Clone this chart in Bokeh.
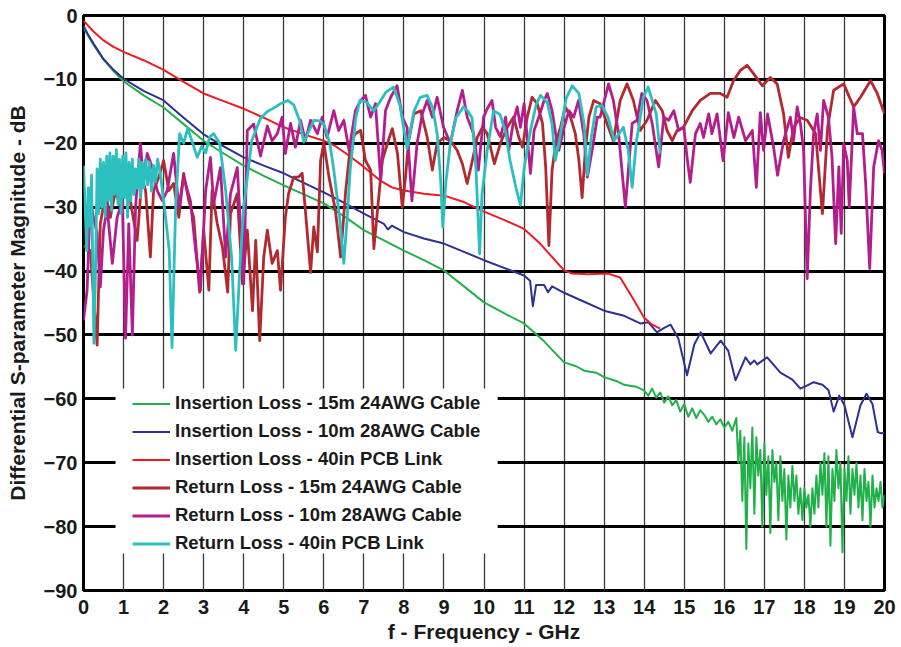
from bokeh.plotting import figure
from bokeh.models import FixedTicker, Legend, LegendItem, BoxAnnotation, Range1d
from bokeh.embed import file_html
from bokeh.resources import INLINE

# ---------------- data ----------------
x_ticks = [0, 1, 2, 3, 4, 5, 6, 7, 8, 9, 10, 11, 12, 13, 14, 15, 16, 17, 18, 19, 20]
y_ticks = [-90, -80, -70, -60, -50, -40, -30, -20, -10, 0]

series_names = [
    "Insertion Loss - 15m 24AWG Cable",
    "Insertion Loss - 10m 28AWG Cable",
    "Insertion Loss - 40in PCB Link",
    "Return Loss - 15m 24AWG Cable",
    "Return Loss - 10m 28AWG Cable",
    "Return Loss - 40in PCB Link",
]

# Insertion Loss - 15m 24AWG Cable
il15_f = [0.0, 0.1, 0.25, 0.5, 0.75, 1.0, 1.5, 2.0, 2.5, 3.0, 3.5, 4.0, 4.5, 5.0, 5.5, 6.0,
          6.5, 7.0, 7.5, 8.0, 8.5, 9.0, 9.5, 10.0, 10.5, 11.0, 11.5, 12.0, 12.3, 12.5, 12.8,
          13.0, 13.3, 13.5, 13.8, 14.0,
          14.1, 14.2, 14.3, 14.4, 14.5, 14.6, 14.7, 14.8, 14.9, 15.0, 15.1, 15.2, 15.3, 15.4,
          15.5, 15.6, 15.7, 15.8, 15.9, 16.0, 16.1, 16.2, 16.3,
          16.35, 16.4, 16.45, 16.5, 16.55, 16.6, 16.65, 16.7, 16.75, 16.8, 16.85, 16.9, 16.95,
          17.0, 17.05, 17.1, 17.15, 17.2, 17.25, 17.3, 17.35, 17.4, 17.45, 17.5, 17.55, 17.6,
          17.65, 17.7, 17.75, 17.8, 17.85, 17.9, 17.95, 18.0, 18.05, 18.1, 18.15, 18.2, 18.25,
          18.3, 18.35, 18.4, 18.45, 18.5, 18.55, 18.6, 18.65, 18.7, 18.75, 18.8, 18.85, 18.9,
          18.95, 19.0, 19.05, 19.1, 19.15, 19.2, 19.25, 19.3, 19.35, 19.4, 19.45, 19.5, 19.55,
          19.6, 19.65, 19.7, 19.75, 19.8, 19.85, 19.9, 19.95, 20.0]
il15_db = [-1.9, -3.0, -4.6, -6.9, -8.7, -10.3, -12.5, -14.4, -17.0, -19.6, -21.6, -23.5, -25.1,
           -26.6, -28.0, -29.4, -31.4, -33.6, -35.2, -36.8, -38.3, -39.9, -42.4, -44.9, -46.6,
           -48.2, -51.0, -54.3, -54.9, -55.6, -55.9, -56.6, -57.2, -57.8, -58.1, -58.7,
           -59.5, -58.4, -59.8, -59.0, -60.6, -59.6, -61.0, -60.2, -62.0, -60.8, -62.8, -61.5,
           -63.0, -61.8, -62.5, -63.6, -62.8, -64.0, -63.2, -64.5, -63.6, -65.0, -63.0,
           -70.0, -65.0, -76.0, -66.0, -83.5, -67.0, -74.0, -64.5, -78.0, -66.0, -72.0, -68.0,
           -80.0, -67.0, -75.0, -69.0, -81.0, -68.0, -73.0, -70.0, -79.0, -69.0, -76.0, -71.0,
           -82.0, -72.0, -77.0, -70.5, -76.0, -72.0, -78.0, -74.0, -79.0, -74.0, -77.0, -75.0,
           -80.0, -74.0, -78.0, -72.0, -77.0, -70.0, -75.0, -68.5, -80.0, -69.0, -83.0, -71.0,
           -76.0, -68.0, -74.0, -70.0, -84.0, -71.0, -76.0, -69.0, -78.0, -71.0, -75.0, -70.0,
           -77.0, -72.0, -79.0, -71.0, -76.0, -73.0, -80.0, -72.0, -77.0, -74.0, -76.0, -73.0,
           -77.0, -75.0]

# Insertion Loss - 10m 28AWG Cable
il10_f = [0.0, 0.1, 0.25, 0.5, 0.75, 1.0, 1.5, 2.0, 2.5, 3.0, 3.5, 4.0, 4.5, 5.0, 5.5, 6.0,
          6.5, 7.0, 7.5, 7.6, 7.7, 8.0, 8.5, 9.0, 9.5, 10.0, 10.5, 11.0, 11.15, 11.22, 11.3,
          11.5, 11.6, 11.7, 12.0, 12.5, 13.0, 13.5, 13.9, 14.1, 14.32, 14.5, 14.66, 14.85,
          15.07, 15.25, 15.41, 15.66, 15.91, 16.1, 16.28, 16.53, 16.65, 16.75, 16.82, 17.07,
          17.4, 17.7, 17.9, 18.1, 18.23, 18.45, 18.6, 18.73, 18.87, 19.0, 19.2, 19.4, 19.55,
          19.7, 19.83, 19.92, 20.0]
il10_db = [-1.6, -2.8, -4.4, -6.8, -8.5, -9.9, -11.8, -13.3, -16.0, -18.6, -20.5, -22.2, -23.5,
           -24.7, -26.2, -27.7, -29.3, -31.0, -32.6, -33.5, -32.9, -33.9, -34.9, -35.7, -37.0,
           -38.3, -39.5, -40.7, -41.5, -45.5, -42.2, -42.2, -43.3, -42.4, -43.4, -44.8, -46.2,
           -47.0, -48.2, -48.0, -49.6, -48.9, -48.4, -50.5, -56.3, -51.5, -49.6, -52.9, -50.9,
           -52.5, -57.1, -53.5, -54.6, -54.0, -54.6, -53.5, -55.9, -57.0, -58.4, -57.8, -57.4,
           -57.8, -58.6, -62.0, -59.5, -61.0, -66.0, -61.0, -59.2, -60.8, -65.2, -65.4, -65.3]

# Insertion Loss - 40in PCB Link
il40_f = [0.0, 0.25, 0.5, 0.75, 1.0, 1.5, 2.0, 2.5, 3.0, 3.5, 4.0, 4.5, 5.0, 5.5, 6.0, 6.3,
          6.6, 7.0, 7.4, 7.7, 8.0, 8.5, 9.0, 9.5, 10.0, 10.5, 11.0, 11.4, 11.7, 12.0, 12.2,
          12.6, 13.1, 13.4, 13.7, 14.0, 14.2, 14.4]
il40_db = [-0.8, -2.5, -3.9, -4.9, -5.7, -7.0, -8.5, -10.4, -12.2, -13.4, -14.6, -16.0, -17.5,
           -18.6, -19.6, -20.5, -21.8, -23.7, -25.8, -26.9, -27.4, -27.9, -28.2, -29.2, -30.7,
           -32.0, -33.4, -35.7, -37.8, -39.9, -40.4, -40.5, -40.4, -41.0, -44.1, -47.3, -48.4,
           -49.0]

# Return Loss - 15m 24AWG Cable
rl15_f = [0.0, 0.17, 0.34, 0.42, 0.55, 0.67, 0.8, 0.92, 1.05, 1.17, 1.34, 1.46, 1.55, 1.67,
          1.75, 1.88, 2.0, 2.13, 2.25, 2.38, 2.5, 2.63, 2.75, 2.9, 3.0, 3.13, 3.21, 3.34, 3.47,
          3.6, 3.67, 3.84, 3.97, 4.09, 4.22, 4.3, 4.4, 4.5, 4.59, 4.71, 4.84, 4.92, 5.04, 5.12,
          5.25, 5.37, 5.46, 5.54, 5.67, 5.75, 5.84, 5.92, 6.0, 6.13, 6.29, 6.42, 6.54, 6.67,
          6.79, 6.92, 7.04, 7.17, 7.25, 7.38, 7.46, 7.59, 7.71, 7.84, 7.96, 8.04, 8.12, 8.25,
          8.42, 8.58, 8.71, 8.83, 9.0, 9.16, 9.33, 9.46, 9.58, 9.71, 9.83, 9.96, 10.08, 10.26,
          10.41, 10.58, 10.74, 10.87, 10.96, 11.08, 11.2, 11.33, 11.46, 11.54, 11.62, 11.7,
          11.79, 11.91, 12.03, 12.16, 12.28, 12.37, 12.45, 12.53, 12.62, 12.74, 12.9, 13.07,
          13.23, 13.4, 13.57, 13.73, 13.9, 14.07, 14.28, 14.45, 14.57, 14.7, 14.82, 14.98,
          15.2, 15.4, 15.65, 15.9, 16.07, 16.23, 16.4, 16.57, 16.73, 16.95, 17.15, 17.32,
          17.48, 17.6, 17.73, 17.9, 18.07, 18.28, 18.45, 18.58, 18.73, 18.98, 19.23, 19.4,
          19.65, 19.82, 20.0]
rl15_db = [-36.0, -36.8, -51.6, -32.6, -27.9, -31.6, -27.4, -30.0, -26.9, -29.0, -35.2, -25.3,
           -27.4, -37.8, -27.4, -25.3, -22.7, -27.4, -26.3, -31.6, -24.7, -29.0, -31.6, -43.3,
           -33.6, -43.0, -27.4, -32.6, -36.3, -43.3, -31.0, -27.9, -42.0, -33.6, -46.2, -35.2,
           -50.9, -37.8, -33.6, -38.8, -36.8, -43.0, -31.6, -27.9, -25.3, -25.3, -24.7, -30.5,
           -40.2, -33.1, -37.0, -22.7, -20.0, -25.3, -30.5, -37.8, -27.9, -20.0, -18.5, -18.0,
           -22.7, -24.2, -36.5, -27.9, -22.7, -20.0, -17.7, -21.6, -30.0, -25.3, -19.6, -15.4,
           -14.9, -19.0, -24.2, -20.0, -19.1, -19.6, -21.1, -23.2, -26.3, -22.7, -19.1, -17.5,
           -18.5, -23.2, -20.0, -17.5, -15.9, -19.1, -20.6, -15.9, -12.8, -13.8, -16.9, -23.7,
           -36.0, -24.2, -20.0, -17.5, -14.3, -15.9, -18.5, -22.7, -28.5, -21.1, -15.9, -13.3,
           -13.8, -16.9, -19.6, -13.3, -10.7, -13.3, -18.0, -16.4, -13.3, -14.9, -18.0, -19.6,
           -18.0, -17.5, -14.9, -13.3, -12.2, -12.2, -12.8, -10.2, -8.6, -7.8, -9.1, -11.0,
           -9.7, -10.7, -15.4, -22.2, -17.5, -16.0, -16.4, -18.5, -31.0, -17.5, -11.7, -10.7,
           -14.3, -12.8, -10.2, -12.2, -15.4]

# Return Loss - 10m 28AWG Cable
rl10_f = [0.0, 0.09, 0.17, 0.25, 0.34, 0.42, 0.5, 0.59, 0.72, 0.84, 0.97, 1.05, 1.13, 1.22,
          1.3, 1.42, 1.5, 1.59, 1.72, 1.84, 1.97, 2.09, 2.25, 2.38, 2.5, 2.67, 2.8, 2.92, 3.05,
          3.17, 3.25, 3.42, 3.55, 3.67, 3.84, 4.0, 4.09, 4.25, 4.42, 4.59, 4.71, 4.84, 4.96,
          5.04, 5.17, 5.29, 5.42, 5.54, 5.67, 5.84, 5.96, 6.08, 6.25, 6.37, 6.5, 6.63, 6.79,
          6.92, 7.04, 7.17, 7.29, 7.42, 7.54, 7.67, 7.83, 7.96, 8.08, 8.2, 8.33, 8.46, 8.58,
          8.71, 8.83, 8.99, 9.16, 9.33, 9.46, 9.58, 9.74, 9.86, 9.99, 10.08, 10.2, 10.29,
          10.41, 10.54, 10.62, 10.74, 10.83, 10.91, 11.0, 11.08, 11.16, 11.25, 11.37, 11.5,
          11.58, 11.7, 11.79, 11.87, 12.0, 12.12, 12.24, 12.36, 12.49, 12.58, 12.7, 12.83,
          12.9, 13.11, 13.23, 13.36, 13.53, 13.7, 13.82, 13.94, 14.07, 14.2, 14.36, 14.49,
          14.61, 14.74, 14.86, 14.99, 15.07, 15.15, 15.28, 15.4, 15.48, 15.61, 15.69, 15.82,
          15.97, 16.1, 16.24, 16.36, 16.53, 16.7, 16.8, 16.9, 16.98, 17.08, 17.23, 17.33,
          17.48, 17.65, 17.73, 17.82, 17.9, 17.98, 18.07, 18.15, 18.23, 18.32, 18.4, 18.48,
          18.6, 18.69, 18.78, 18.86, 18.92, 18.98, 19.07, 19.12, 19.23, 19.32, 19.45, 19.53,
          19.63, 19.73, 19.85, 19.94, 20.0]
rl10_db = [-47.7, -43.0, -29.0, -31.6, -34.1, -42.5, -33.6, -30.0, -38.8, -31.6, -29.0, -50.5,
           -32.6, -50.0, -30.0, -20.0, -25.8, -21.6, -23.8, -27.4, -29.0, -27.4, -21.6, -30.0,
           -25.3, -29.0, -36.8, -43.0, -27.4, -22.2, -29.5, -23.8, -37.8, -27.9, -23.8, -42.0,
           -18.0, -17.0, -22.0, -17.3, -19.6, -18.5, -15.9, -21.6, -16.9, -20.6, -16.4, -19.6,
           -16.4, -18.5, -15.9, -19.1, -14.9, -18.0, -16.4, -21.1, -14.9, -13.3, -12.5, -15.9,
           -13.8, -25.8, -14.9, -12.8, -11.0, -15.9, -17.5, -29.0, -20.0, -15.4, -13.3, -15.9,
           -12.8, -17.5, -20.0, -14.9, -11.7, -15.9, -18.5, -24.2, -15.9, -14.6, -13.3, -17.5,
           -19.0, -15.9, -21.1, -16.4, -14.3, -17.5, -13.8, -19.1, -24.7, -18.0, -15.9, -13.3,
           -12.2, -14.9, -18.5, -21.1, -17.5, -14.9, -15.9, -13.3, -18.5, -25.3, -21.1, -15.9,
           -15.9, -10.7, -13.3, -18.5, -30.0, -16.9, -16.4, -12.2, -13.3, -16.9, -23.7, -15.9,
           -16.4, -14.9, -18.0, -17.5, -22.2, -26.1, -18.5, -16.9, -19.1, -15.4, -18.5, -15.4,
           -22.7, -15.2, -19.1, -15.9, -19.6, -18.0, -26.9, -15.2, -21.1, -15.4, -20.6, -25.0,
           -19.6, -15.9, -19.6, -14.3, -16.9, -21.1, -41.2, -27.4, -18.5, -15.4, -21.1, -13.3,
           -15.9, -22.2, -35.7, -23.7, -34.1, -20.0, -22.7, -30.0, -14.3, -18.5, -18.5, -26.3,
           -39.6, -23.7, -19.6, -21.1, -24.7]

# Return Loss - 40in PCB Link
rl40_f = [0.0, 0.04, 0.08, 0.12, 0.16, 0.2, 0.26, 0.3, 0.34, 0.38, 0.42, 0.46, 0.5, 0.54,
          0.58, 0.62, 0.66, 0.7, 0.74, 0.78, 0.82, 0.86, 0.9, 0.94, 0.98, 1.02, 1.06, 1.1,
          1.14, 1.18, 1.22, 1.26, 1.3, 1.34, 1.38, 1.42, 1.46, 1.5, 1.55, 1.6, 1.65, 1.7, 1.75,
          1.8, 1.85, 1.92, 1.98, 2.05, 2.14, 2.21, 2.3, 2.4, 2.5, 2.6, 2.7, 2.84, 2.95, 3.05,
          3.15, 3.25, 3.4, 3.55, 3.7, 3.8, 3.9, 4.0, 4.2, 4.42, 4.6, 4.75, 4.92, 5.1, 5.25,
          5.4, 5.5, 5.6, 5.75, 5.9, 6.0, 6.15, 6.25, 6.4, 6.5, 6.58, 6.66, 6.8, 6.9, 7.05,
          7.25, 7.4, 7.55, 7.74, 7.9, 8.08, 8.25, 8.41, 8.58, 8.72, 8.83, 8.92, 8.97, 9.05,
          9.16, 9.3, 9.49, 9.6, 9.7, 9.8, 9.89, 9.95, 10.08, 10.24, 10.4, 10.55, 10.65, 10.8,
          10.91, 11.0, 11.16, 11.3, 11.41, 11.58, 11.7, 11.78, 11.9, 12.05, 12.2, 12.37, 12.5,
          12.58, 12.68, 12.8, 12.95, 13.1, 13.25, 13.48, 13.6, 13.7, 13.8, 13.98, 14.1, 14.3,
          14.4]
rl40_db = [-23.5, -30.0, -36.8, -27.0, -33.0, -25.0, -51.3, -40.0, -24.0, -31.0, -22.5, -30.0,
           -23.0, -31.5, -22.0, -29.0, -21.5, -30.5, -22.0, -28.0, -21.0, -29.5, -22.5, -31.0,
           -22.0, -28.5, -21.5, -31.6, -23.0, -29.0, -22.5, -28.0, -24.0, -27.0, -22.5, -28.5,
           -23.0, -27.0, -22.5, -26.5, -23.0, -27.5, -23.5, -26.0, -22.5, -24.8, -28.0, -31.6,
           -36.8, -52.0, -30.0, -18.5, -20.0, -17.7, -19.5, -22.2, -20.5, -21.5, -19.0, -18.5,
           -20.0, -27.4, -38.0, -52.4, -40.0, -30.0, -19.6, -16.1, -15.0, -14.5, -13.8, -13.3,
           -14.0, -16.5, -19.8, -18.5, -16.4, -16.5, -17.0, -20.0, -24.2, -32.0, -38.8, -32.0,
           -24.0, -16.0, -13.3, -13.5, -14.9, -13.5, -12.0, -11.2, -14.0, -20.8, -15.0, -12.8,
           -12.5, -14.5, -18.5, -26.0, -33.1, -26.0, -20.0, -16.0, -14.3, -15.0, -16.0, -24.0,
           -37.3, -28.0, -21.1, -14.9, -15.5, -18.5, -22.7, -27.0, -29.7, -24.0, -18.0, -14.0,
           -12.5, -13.6, -17.0, -22.7, -19.0, -13.0, -11.0, -12.2, -17.0, -25.0, -19.0, -14.3,
           -14.1, -16.0, -19.6, -17.5, -21.0, -26.9, -20.0, -12.8, -11.2, -15.4, -21.6]

colors = ["#22b04b", "#2e3192", "#ed1c24", "#b22a30", "#b41e8c", "#2cbfbf"]
widths = [2.0, 2.0, 2.0, 2.8, 2.8, 2.8]

# ---------------- figure ----------------
FONT = "Liberation Sans"

p = figure(width=900, height=646, output_backend="svg", toolbar_location=None,
           x_range=Range1d(0, 20), y_range=Range1d(-90, 0),
           min_border_left=83, min_border_right=16, min_border_top=15, min_border_bottom=56)

p.background_fill_color = "white"
p.border_fill_color = "white"
p.outline_line_color = "black"
p.outline_line_width = 3

p.xaxis.ticker = FixedTicker(ticks=x_ticks)
p.yaxis.ticker = FixedTicker(ticks=y_ticks)
p.xgrid.ticker = FixedTicker(ticks=x_ticks)
p.ygrid.ticker = FixedTicker(ticks=y_ticks)

p.xgrid.grid_line_color = "#3a3a3a"
p.xgrid.grid_line_width = 1.3
p.ygrid.grid_line_color = "black"
p.ygrid.grid_line_width = 3

for ax in (p.xaxis, p.yaxis):
    ax.axis_line_color = None
    ax.major_tick_line_color = None
    ax.minor_tick_line_color = None
    ax.major_tick_out = 0
    ax.major_tick_in = 0
    ax.minor_tick_out = 0
    ax.minor_tick_in = 0
    ax.major_label_text_font = FONT
    ax.major_label_text_font_style = "bold"
    ax.major_label_text_color = "#1a1a1a"
    ax.axis_label_text_font = FONT
    ax.axis_label_text_font_style = "bold"
    ax.axis_label_text_color = "#1a1a1a"

p.xaxis.major_label_text_font_size = "20px"
p.yaxis.major_label_text_font_size = "20px"
p.xaxis.major_label_standoff = 9
p.yaxis.major_label_standoff = 6
p.xaxis.axis_label = "f - Frequency - GHz"
p.yaxis.axis_label = "Differential S-parameter Magnitude - dB"
p.xaxis.axis_label_text_font_size = "21px"
p.yaxis.axis_label_text_font_size = "21px"
p.xaxis.axis_label_standoff = 3
p.yaxis.axis_label_standoff = 12

# white box behind the legend, hiding the grid
box = BoxAnnotation(left=0.8, right=10.34, top=-58.4, bottom=-84.2,
                    fill_color="white", fill_alpha=1.0, line_alpha=0, level="underlay")
p.add_layout(box)

all_f = [il15_f, il10_f, il40_f, rl15_f, rl10_f, rl40_f]
all_db = [il15_db, il10_db, il40_db, rl15_db, rl10_db, rl40_db]

items = []
for name, fx, dy, c, w in zip(series_names, all_f, all_db, colors, widths):
    r = p.line(fx, dy, line_color=c, line_width=w, line_join="round")
    items.append(LegendItem(label=name, renderers=[r]))

legend = Legend(items=items, location=(49, 36))
legend.background_fill_alpha = 0
legend.border_line_alpha = 0
legend.padding = 0
legend.margin = 0
legend.spacing = 6
legend.label_height = 21
legend.glyph_height = 21
legend.glyph_width = 38
legend.label_standoff = 5
legend.label_text_font = FONT
legend.label_text_font_style = "bold"
legend.label_text_font_size = "18.5px"
legend.label_text_color = "#1a1a1a"
legend.label_text_baseline = "middle"
p.add_layout(legend)

open("out.html", "w").write(file_html(p, INLINE))
